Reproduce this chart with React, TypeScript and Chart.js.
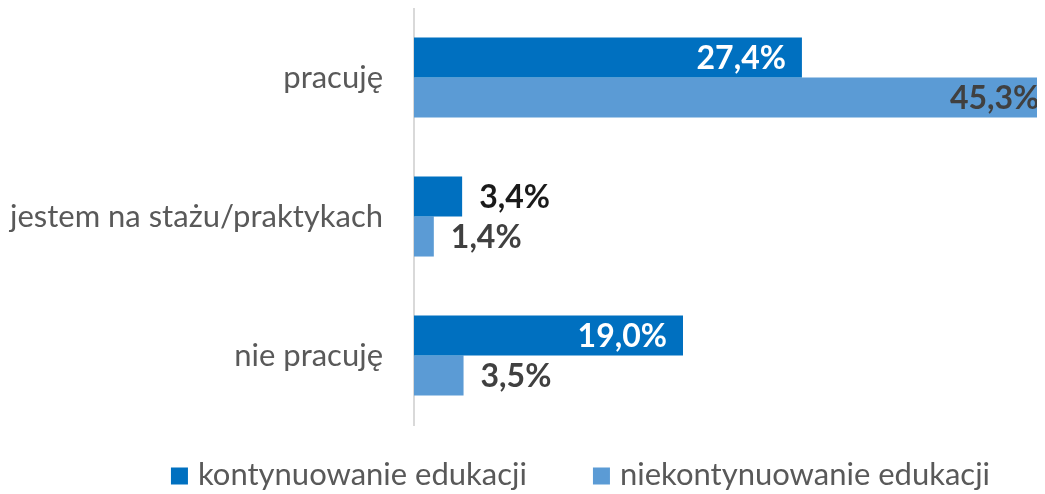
import React, { useEffect, useRef } from "react";
import { Chart, registerables } from "chart.js";

Chart.register(...registerables);

const categories = ["pracuję", "jestem na stażu/praktykach", "nie pracuję"];
const seriesNames = ["kontynuowanie edukacji", "niekontynuowanie edukacji"];
const continuing = [27.4, 3.4, 19.0];
const notContinuing = [45.3, 1.4, 3.5];
const colors = ["#0070C0", "#5B9BD5"];

const FONT = "Lato, sans-serif";

const labelPlugin = {
  id: "barLabels",
  afterDatasetsDraw(chart: any) {
    const ctx = chart.ctx;
    ctx.save();
    ctx.font = `bold 32px ${FONT}`;
    ctx.textBaseline = "middle";
    chart.data.datasets.forEach((ds: any, di: number) => {
      const meta = chart.getDatasetMeta(di);
      meta.data.forEach((bar: any, i: number) => {
        const v = ds.data[i] as number;
        const text = v.toFixed(1).replace(".", ",") + "%";
        const w = ctx.measureText(text).width;
        const barLen = bar.x - bar.base;
        if (barLen > w + 40) {
          ctx.textAlign = "right";
          ctx.fillStyle = di === 0 ? "#ffffff" : "#404040";
          ctx.fillText(text, bar.x - 16, bar.y + 1);
        } else {
          ctx.textAlign = "left";
          ctx.fillStyle = di === 0 ? "#1a1a1a" : "#404040";
          ctx.fillText(text, bar.x + 17, bar.y + 1);
        }
      });
    });
    ctx.restore();
  },
};

const legendPlugin = {
  id: "customLegend",
  afterDraw(chart: any) {
    const ctx = chart.ctx;
    ctx.save();
    ctx.font = `31px ${FONT}`;
    ctx.textBaseline = "middle";
    ctx.textAlign = "left";
    const box = 17;
    const gapBoxText = 10;
    const gapItems = 66;
    const widths = seriesNames.map((n) => ctx.measureText(n).width);
    const total =
      widths.reduce((a, b) => a + b, 0) + seriesNames.length * (box + gapBoxText) + gapItems * (seriesNames.length - 1);
    let x = 572.5 - total / 2;
    const y = chart.chartArea.bottom + 50;
    seriesNames.forEach((n, i) => {
      ctx.fillStyle = colors[i];
      ctx.fillRect(x, y - box / 2 + 1, box, box);
      x += box + gapBoxText;
      ctx.fillStyle = "#595959";
      ctx.fillText(n, x, y);
      x += widths[i] + gapItems;
    });
    ctx.restore();
  },
};

export default function App() {
  const ref = useRef<HTMLCanvasElement>(null);
  useEffect(() => {
    if (!ref.current) return;
    const chart = new Chart(ref.current, {
      type: "bar",
      data: {
        labels: categories,
        datasets: [
          {
            label: seriesNames[0],
            data: continuing,
            backgroundColor: colors[0],
            categoryPercentage: 0.576,
            barPercentage: 1,
          },
          {
            label: seriesNames[1],
            data: notContinuing,
            backgroundColor: colors[1],
            categoryPercentage: 0.576,
            barPercentage: 1,
          },
        ],
      },
      options: {
        indexAxis: "y",
        animation: false,
        responsive: true,
        maintainAspectRatio: false,
        layout: { padding: { top: 0, right: 0, bottom: 69, left: 0 } },
        scales: {
          x: {
            min: 0,
            max: 46.9,
            display: false,
            grid: { display: false },
          },
          y: {
            grid: { display: false, drawTicks: false },
            border: { display: true, color: "#d9d9d9", width: 2 },
            ticks: {
              color: "#595959",
              font: { family: FONT, size: 31 },
              padding: 31,
            },
            afterFit: (scale: any) => {
              scale.width = 406;
              scale.paddingTop = 0;
              scale.paddingBottom = 0;
            },
          },
        },
        plugins: {
          legend: { display: false },
          tooltip: { enabled: false },
        },
      },
      plugins: [labelPlugin, legendPlugin],
    });
    return () => chart.destroy();
  }, []);
  return (
    <div style={{ width: 1037, height: 486, overflow: "hidden" }}>
      <div style={{ width: 1070, height: 486, position: "relative" }}>
        <canvas ref={ref} />
      </div>
    </div>
  );
}
